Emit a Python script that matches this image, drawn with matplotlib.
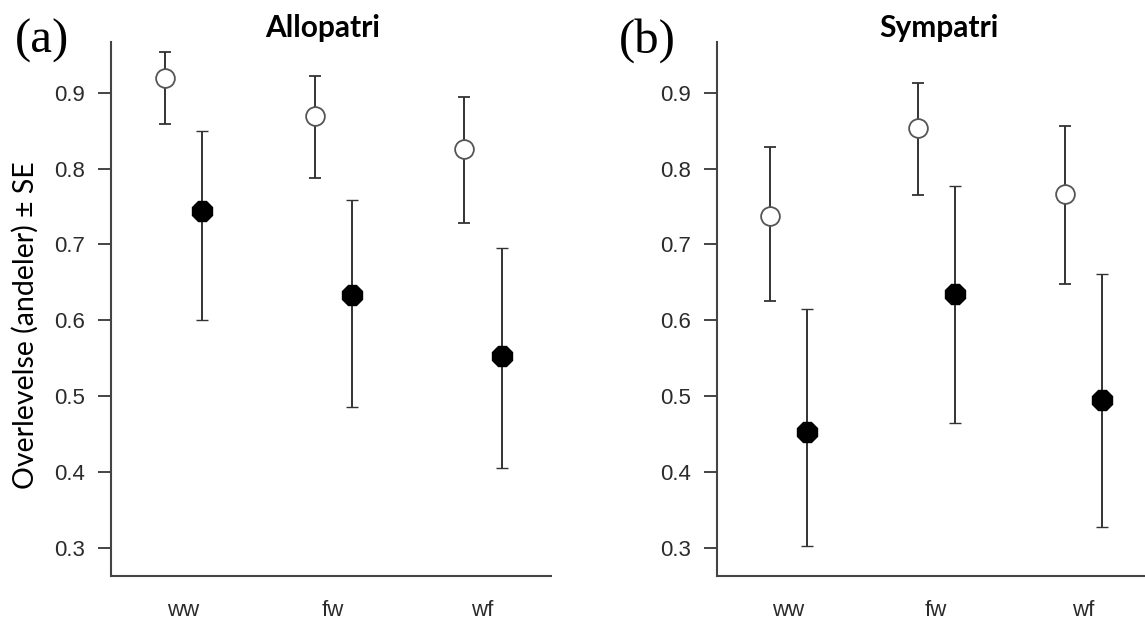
import matplotlib
matplotlib.use("Agg")
import matplotlib.pyplot as plt
import numpy as np

groups = ["ww", "fw", "wf"]

# Allopatri: open = first treatment, filled = second
allo_open = [0.919, 0.869, 0.826]
allo_open_lo = [0.859, 0.787, 0.728]
allo_open_hi = [0.954, 0.922, 0.895]
allo_fill = [0.744, 0.633, 0.553]
allo_fill_lo = [0.600, 0.486, 0.405]
allo_fill_hi = [0.850, 0.759, 0.695]

# Sympatri
symp_open = [0.737, 0.854, 0.766]
symp_open_lo = [0.625, 0.765, 0.648]
symp_open_hi = [0.828, 0.913, 0.856]
symp_fill = [0.453, 0.635, 0.495]
symp_fill_lo = [0.302, 0.465, 0.327]
symp_fill_hi = [0.615, 0.777, 0.661]

yticks = [0.3, 0.4, 0.5, 0.6, 0.7, 0.8, 0.9]

axcol = "#444444"
txtcol = "#2b2b2b"

fig = plt.figure(figsize=(11.45, 6.26), dpi=100)


def panel(ax, op, op_lo, op_hi, fi, fi_lo, fi_hi, title, title_x, xmax):
    x = np.arange(1, len(groups) + 1)
    op = np.array(op); fi = np.array(fi)
    err_o = [op - np.array(op_lo), np.array(op_hi) - op]
    err_f = [fi - np.array(fi_lo), np.array(fi_hi) - fi]
    ax.errorbar(x - 0.12, op, yerr=err_o, fmt="o", ms=13.5, mfc="white",
                mec="#555555", mew=1.3, ecolor="#333333", elinewidth=1.4,
                capsize=4, capthick=1.4)
    ax.errorbar(x + 0.13, fi, yerr=err_f, fmt="8", ms=15, mfc="black",
                mec="black", mew=1, ecolor="#333333", elinewidth=1.4,
                capsize=4, capthick=1.4)
    ax.set_xlim(0.52, xmax)
    ax.set_ylim(0.2625, 0.967)
    ax.set_xticks(x)
    ax.set_xticklabels(groups, fontfamily="Liberation Sans", fontsize=16,
                       color=txtcol)
    ax.set_yticks(yticks)
    ax.set_yticklabels([f"{t:.1f}" for t in yticks],
                       fontfamily="Liberation Sans", fontsize=16, color=txtcol)
    ax.tick_params(axis="x", length=0, pad=17)
    ax.tick_params(axis="y", length=9.5, width=1.4, color=axcol, pad=9)
    for s in ["top", "right"]:
        ax.spines[s].set_visible(False)
    for s in ["left", "bottom"]:
        ax.spines[s].set_color(axcol)
        ax.spines[s].set_linewidth(1.5)
    ax.set_title(title, fontfamily="Lato", fontweight="bold", fontsize=21.5,
                 color="black", pad=1, x=title_x)
    return ax


ax1 = fig.add_axes([111 / 1145, 50 / 626, 440 / 1145, 534 / 626])
panel(ax1, allo_open, allo_open_lo, allo_open_hi,
      allo_fill, allo_fill_lo, allo_fill_hi, "Allopatri", 0.481, 3.46)
ax1.set_ylabel("Overlevelse (andeler) ± SE", fontfamily="Lato", fontsize=20.5,
               color="black")
ax1.yaxis.set_label_coords(-0.164, 0.47)

ax2 = fig.add_axes([717 / 1145, 50 / 626, 428 / 1145, 534 / 626])
panel(ax2, symp_open, symp_open_lo, symp_open_hi,
      symp_fill, symp_fill_lo, symp_fill_hi, "Sympatri", 0.519, 3.42)

fig.text(15 / 1145, 1 - 41 / 626, "(a)", fontfamily="Liberation Serif",
         fontsize=35, va="center", ha="left")
fig.text(619 / 1145, 1 - 41 / 626, "(b)", fontfamily="Liberation Serif",
         fontsize=35, va="center", ha="left")

fig.savefig("out.png", dpi=100)
